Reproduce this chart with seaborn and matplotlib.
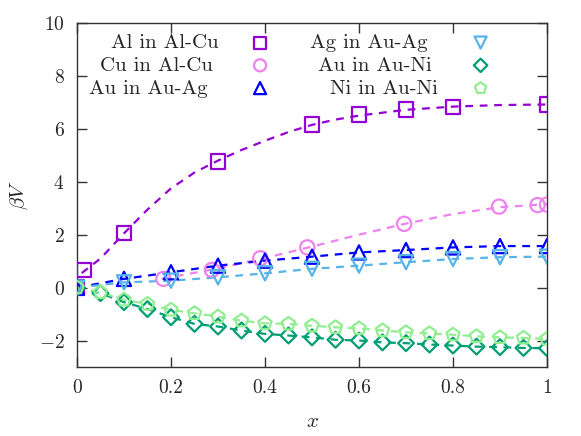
import matplotlib
matplotlib.use("Agg")
import matplotlib.pyplot as plt
import seaborn as sns
import numpy as np

# ---- data ----
al_x = [0.0, 0.015, 0.1, 0.3, 0.5, 0.6, 0.7, 0.8, 1.0]
al_y = [0.0, 0.68, 2.05, 4.77, 6.16, 6.54, 6.73, 6.84, 6.92]
al_fit_x = [0.01, 0.05, 0.1, 0.15, 0.2, 0.25, 0.3, 0.35, 0.4, 0.45, 0.5, 0.55, 0.6, 0.7, 0.8, 0.9, 1.0]
al_fit_y = [0.55, 1.1, 2.05, 2.95, 3.75, 4.35, 4.8, 5.2, 5.55, 5.88, 6.15, 6.35, 6.5, 6.72, 6.84, 6.9, 6.92]

cu_x = [0.184, 0.287, 0.39, 0.49, 0.696, 0.898, 0.98, 1.0]
cu_y = [0.33, 0.67, 1.11, 1.52, 2.41, 3.06, 3.12, 3.14]
cu_fit_x = [0.18, 0.2, 0.3, 0.4, 0.5, 0.6, 0.7, 0.8, 0.9, 1.0]
cu_fit_y = [0.33, 0.4, 0.72, 1.12, 1.55, 2.0, 2.42, 2.78, 3.04, 3.15]

auag_x = [0.0, 0.1, 0.2, 0.3, 0.4, 0.5, 0.6, 0.7, 0.8, 0.9, 1.0]
au_in_auag = [0.0, 0.33, 0.58, 0.83, 1.02, 1.17, 1.33, 1.42, 1.52, 1.57, 1.57]
ag_in_auag = [0.0, 0.2, 0.26, 0.39, 0.54, 0.71, 0.83, 0.96, 1.08, 1.15, 1.17]

auni_x = [0.0, 0.05, 0.1, 0.15, 0.2, 0.25, 0.3, 0.35, 0.4, 0.45, 0.5,
          0.55, 0.6, 0.65, 0.7, 0.75, 0.8, 0.85, 0.9, 0.95, 1.0]
au_in_auni = [0.0, -0.21, -0.55, -0.81, -1.12, -1.37, -1.47, -1.62, -1.75, -1.81, -1.88,
              -1.97, -2.0, -2.07, -2.1, -2.15, -2.19, -2.23, -2.25, -2.28, -2.29]
ni_in_auni = [0.0, -0.18, -0.46, -0.62, -0.84, -0.97, -1.1, -1.25, -1.35, -1.37, -1.44,
              -1.5, -1.54, -1.62, -1.69, -1.73, -1.78, -1.84, -1.88, -1.9, -1.94]

x_ticks = [0, 0.2, 0.4, 0.6, 0.8, 1]
y_ticks = [-2, 0, 2, 4, 6, 8, 10]

c_al, c_cu, c_au1, c_ag, c_au2, c_ni = "#9400D3", "#EE82EE", "#0000FF", "#56B4E9", "#009E73", "#90EE90"

sns.set_theme(style="ticks")
plt.rcParams.update({
    "font.family": ["serif"],
    "font.serif": ["cmr10", "DejaVu Serif"],
    "mathtext.fontset": "cm",
    "axes.formatter.use_mathtext": True,
    "axes.unicode_minus": True,
    "font.size": 14,
})

fig = plt.figure(figsize=(5.81, 4.36), dpi=100)
ax = fig.add_axes([77/581, 1-367/436, 470/581, 344/436])

dash = dict(linewidth=1.6, dashes=(3.5, 3), legend=False)
sns.lineplot(x=al_fit_x, y=al_fit_y, color=c_al, ax=ax, **dash)
sns.lineplot(x=cu_fit_x, y=cu_fit_y, color=c_cu, ax=ax, **dash)
sns.lineplot(x=auag_x, y=au_in_auag, color=c_au1, ax=ax, **dash)
sns.lineplot(x=auag_x, y=ag_in_auag, color=c_ag, ax=ax, **dash)
sns.lineplot(x=auni_x, y=au_in_auni, color=c_au2, ax=ax, **dash)
sns.lineplot(x=auni_x, y=ni_in_auni, color=c_ni, ax=ax, **dash)

def pts(x, y, m, c, lab, s=105):
    sns.scatterplot(x=x, y=y, marker=m, s=s, facecolors="none", edgecolors=c,
                    linewidth=1.6, ax=ax, label=lab, zorder=3)

pts(al_x, al_y, "s", c_al, "Al in Al-Cu")
pts(cu_x, cu_y, "o", c_cu, "Cu in Al-Cu")
pts(auag_x, au_in_auag, "^", c_au1, "Au in Au-Ag")
pts(auag_x, ag_in_auag, "v", c_ag, "Ag in Au-Ag")
pts(auni_x, au_in_auni, "D", c_au2, "Au in Au-Ni", s=65)
pts(auni_x, ni_in_auni, "p", c_ni, "Ni in Au-Ni", s=100)

ax.set_xlim(0, 1)
ax.set_ylim(-3, 10)
ax.set_xticks(x_ticks)
ax.set_yticks(y_ticks)
ax.set_xticklabels(["0", "0.2", "0.4", "0.6", "0.8", "1"])
ax.tick_params(direction="in", length=7, width=1, top=True, right=True,
               labelsize=14, pad=9, color="#333333")
for sp in ax.spines.values():
    sp.set_linewidth(1.0)
    sp.set_color("#333333")
ax.set_xlabel(r"$x$", fontsize=15, labelpad=11)
ax.set_ylabel(r"$\beta V$", fontsize=15, labelpad=6)

leg = ax.legend(ncol=2, markerfirst=False, frameon=False, loc="upper left",
                bbox_to_anchor=(-0.0065, 1.012), fontsize=15, handletextpad=1.89,
                columnspacing=1.75, labelspacing=0.2, borderaxespad=0.3,
                handlelength=1.3, markerscale=0.85)
fig.canvas.draw()
r = fig.canvas.get_renderer()
texts = leg.get_texts()
for col in (texts[:3], texts[3:]):
    ws = [t.get_window_extent(r).width for t in col]
    W = max(ws)
    for t, w in zip(col, ws):
        t.set_position((W - w, 0))

fig.savefig("out.png", dpi=100)
